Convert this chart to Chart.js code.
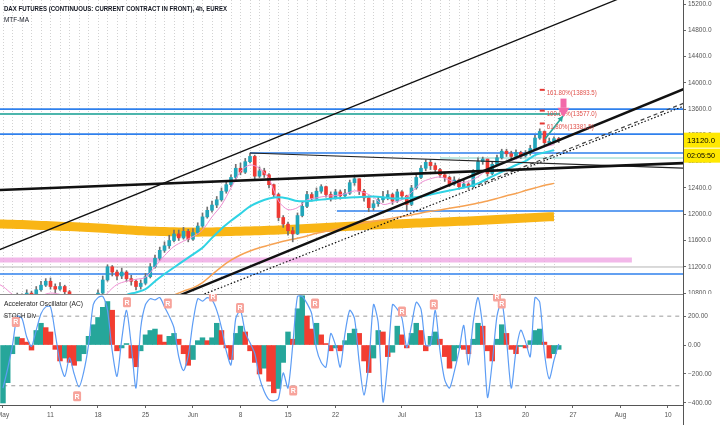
<!DOCTYPE html>
<html>
<head>
<meta charset="utf-8">
<title>DAX futures 4h</title>
<script src="https://cdn.jsdelivr.net/npm/chart.js@4.4.1/dist/chart.umd.min.js"></script>
<style>
  html, body { margin: 0; padding: 0; background: #ffffff; }
  #wrap { position: relative; width: 720px; height: 425px; overflow: hidden; background: #ffffff; }
  #priceChart { position: absolute; left: 0; top: 0; }
  #oscChart { position: absolute; left: 0; top: 294px; }
</style>
</head>
<body>
<div id="wrap">
  <canvas id="priceChart" width="720" height="294"></canvas>
  <canvas id="oscChart" width="720" height="131"></canvas>
</div>
<script>
// x axis works in half-day slots counted from Mon 4 May (trading days only)
const tickSlots = [0, 10, 20, 30, 40, 50, 60, 70, 84, 100, 110, 120, 130, 140];
const tickLabels = ["May", "11", "18", "25", "Jun", "8", "15", "22", "Jul", "13", "20", "27", "Aug", "10"];
const priceTicks = [10800, 11200, 11600, 12000, 12400, 12800, 13200, 13600, 14000, 14400, 14800, 15200];
const oscTicks = [-400, -200, 0, 200];

// candles (open = previous close)
const firstOpen = 10520;
const closes = [
  10600, 10700, 10650, 10750, 10720, 10800, 10760, 10850, 10920, 10980,
  10900, 10860, 10900, 10820, 10700, 10600, 10480, 10420, 10520, 10620,
  10800, 11000, 11200, 11120, 11060, 11120, 11020, 10980, 10900, 10950,
  11050, 11200, 11330, 11450, 11520, 11600, 11700, 11640, 11740, 11620,
  11720, 11820, 11960, 12060, 12140, 12220, 12350, 12450, 12560, 12700,
  12640, 12800, 12880, 12580, 12660, 12600, 12450, 12300, 11950, 11850,
  11750, 11700, 11980, 12120, 12300, 12240, 12350, 12420, 12300, 12250,
  12340, 12280, 12320, 12480, 12540, 12350, 12250, 12100, 12160, 12220,
  12260, 12300, 12200, 12340, 12280, 12150, 12400, 12560, 12700, 12790,
  12740, 12680, 12600, 12560, 12460, 12520, 12420, 12460, 12420, 12640,
  12800, 12840, 12620, 12760, 12860, 12960, 12920, 12880, 12940, 12890,
  12930, 13000, 13160, 13260, 13090, 13110, 13150, 13120
];
const highs = [
  10650, 10760, 10740, 10800, 10790, 10850, 10830, 10900, 10980, 11020,
  11030, 10940, 10960, 10920, 10840, 10720, 10620, 10520, 10580, 10700,
  10850, 11060, 11230, 11220, 11150, 11180, 11140, 11070, 11000, 11000,
  11100, 11250, 11380, 11500, 11580, 11680, 11760, 11760, 11800, 11770,
  11780, 11870, 12020, 12110, 12200, 12270, 12400, 12510, 12600, 12760,
  12780, 12850, 12930, 12900, 12720, 12700, 12620, 12460, 12320, 11980,
  11880, 11800, 12020, 12180, 12350, 12330, 12400, 12450, 12430, 12340,
  12380, 12370, 12380, 12520, 12570, 12540, 12380, 12280, 12210, 12270,
  12350, 12360, 12320, 12380, 12360, 12290, 12440, 12600, 12740, 12830,
  12830, 12780, 12700, 12640, 12580, 12570, 12540, 12520, 12480, 12680,
  12860, 12870, 12840, 12800, 12900, 12990, 12990, 12960, 12980, 12960,
  12970, 13050, 13200, 13300, 13270, 13160, 13180, 13170
];
const lows = [
  10450, 10580, 10600, 10620, 10680, 10700, 10720, 10740, 10830, 10900,
  10860, 10800, 10840, 10780, 10650, 10550, 10420, 10350, 10400, 10500,
  10600, 10780, 10980, 11060, 11000, 11020, 10980, 10920, 10850, 10860,
  10930, 11030, 11180, 11300, 11420, 11480, 11580, 11600, 11620, 11580,
  11600, 11700, 11800, 11940, 12030, 12100, 12200, 12320, 12420, 12530,
  12600, 12620, 12780, 12540, 12560, 12560, 12400, 12250, 11900, 11800,
  11680, 11580, 11690, 11960, 12100, 12200, 12220, 12320, 12260, 12200,
  12230, 12230, 12250, 12300, 12440, 12300, 12200, 12040, 12060, 12120,
  12180, 12220, 12150, 12180, 12230, 12050, 12130, 12380, 12540, 12660,
  12680, 12640, 12560, 12500, 12420, 12440, 12380, 12400, 12380, 12400,
  12620, 12760, 12580, 12600, 12740, 12840, 12880, 12840, 12860, 12850,
  12870, 12900, 12980, 13140, 13060, 13060, 13080, 13090
];

// daily moving averages, first value is the day before 4 May
const fastMA = [
  10980, 10900, 10780, 10700, 10700, 10760, 10800, 10780, 10720, 10620,
  10560, 10600, 10800, 10930, 10980, 11010, 11040, 11200, 11370, 11510,
  11590, 11660, 11760, 11960, 12140, 12400, 12650, 12750, 12700, 12540,
  12200, 12070, 12100, 12217, 12250, 12275, 12285, 12310, 12355, 12330,
  12260, 12150, 12180, 12220, 12330, 12480, 12540, 12567, 12520, 12480,
  12500, 12570, 12680, 12740, 12800, 12840, 12910, 12990, 13030, 13060
];
const midMA = [
  10660, 10650, 10640, 10630, 10620, 10610, 10600, 10590, 10580, 10570,
  10570, 10590, 10620, 10680, 10770, 10810, 10860, 10980, 11090, 11190,
  11290, 11390, 11490, 11640, 11780, 11900, 12010, 12120, 12190, 12240,
  12260, 12240, 12200, 12200, 12215, 12230, 12245, 12250, 12260, 12265,
  12270, 12260, 12240, 12240, 12250, 12270, 12300, 12330, 12360, 12390,
  12420, 12470, 12540, 12610, 12680, 12750, 12810, 12900, 12940, 12975
];
const slowMA = [
  null, null, null, null, null, null, null, null, null, null,
  null, null, null, null, null, null, null, 10620, 10700, 10770,
  10830, 10880, 10960, 11080, 11200, 11300, 11380, 11440, 11490, 11530,
  11570, 11605, 11635, 11670, 11710, 11740, 11770, 11810, 11845, 11870,
  11895, 11915, 11940, 11965, 11990, 12020, 12045, 12065, 12090, 12115,
  12140, 12170, 12200, 12240, 12280, 12315, 12360, 12400, 12440, 12470
];
const mtfMA = [
  11854, 11850, 11846, 11842, 11836, 11830, 11824, 11818, 11812, 11806,
  11798, 11790, 11782, 11772, 11762, 11752, 11746, 11740, 11736, 11732,
  11730, 11728, 11728, 11730, 11734, 11738, 11742, 11746, 11750, 11755,
  11760, 11766, 11774, 11782, 11790, 11798, 11806, 11814, 11822, 11830,
  11838, 11844, 11850, 11856, 11862, 11868, 11874, 11880, 11886, 11892,
  11898, 11904, 11912, 11920, 11928, 11936, 11944, 11952, 11958, 11962
];

// lower pane: accelerator oscillator and stochastic
const acValues = [
  -400, -260, -60, 55, 45, 20, -35, 100, 150, 120,
  90, -30, -110, -90, -120, -140, -110, -60, 60, 140,
  190, 260, 300, 240, -40, -20, 10, -90, -150, -40,
  70, 100, 110, 70, 20, 60, 80, 40, -60, -140,
  -100, 30, 50, 30, 50, 150, 100, -20, -100, 80,
  130, 90, -40, -120, -200, -160, -250, -330, -300, -120,
  90, 40, 250, 340, 200, 110, 150, 70, 10, -40,
  -20, -40, 30, 80, 110, 80, -110, -190, -90, 100,
  90, -80, -50, 130, 70, -20, 80, 150, 100, -40,
  60, 90, 40, -80, -160, -110, -20, -30, -60, 40,
  150, 130, -40, -110, 40, 140, 80, -30, -60, -10,
  -20, 30, 100, 110, 20, -90, -60, -30
];
const stochValues = [
  18, 35, 55, 80, 78, 62, 54, 68, 82, 88,
  88, 65, 40, 28, 44, 30, 19, 32, 55, 90,
  96, 97, 85, 50, 28, 60, 85, 55, 18, 70,
  90, 95, 94, 96, 88, 80, 70, 45, 33, 46,
  75, 95, 93, 96, 94, 85, 70, 50, 38, 78,
  85, 66, 57, 48, 27, 15, 8, 7, 9, 31,
  18, 55, 97, 97, 91, 82, 52, 40, 36, 65,
  55, 36, 65, 85, 78, 40, 12, 38, 90, 74,
  6, 40, 90, 86, 78, 53, 72, 92, 86, 55,
  55, 85, 50, 25, 18, 32, 50, 72, 38, 75,
  96, 70, 10, 40, 80, 93, 60, 18, 50, 68,
  58, 45, 96, 92, 48, 26, 42, 56
];
const stochLevels = [80, 20];
// divergence marks: [slot, stoch value]
const divMarks = [[2.7, 75], [26.1, 92], [34.7, 91], [44.2, 97], [49.9, 87], [65.7, 91],
  [15.6, 11], [61.1, 16], [84, 84], [90.7, 90], [104, 97], [105, 91]];

// drawings on the price pane: [slotFrom, priceFrom, slotTo, priceTo]
const channelTop = [-1, 11452, 144, 15700];
const flatThick = [-1, 12369, 144, 12780];
const peakLine = [52, 12932, 144, 12700];
const riseThick = [35, 10700, 144, 13925];
const riseDotted = [39, 10690, 144, 13665];
const riseDashed = [100, 12445, 144, 13710];
const projArrow = [114.1, 13145, 117.9, 13495];
// horizontal levels: [price, slotFrom, slotTo]
const blueLevels = [[13600, -1, 144], [13220, -1, 144], [12932, 52, 144], [12050, 70.3, 144], [11090, -1, 144]];
const tealLevels = [[13526, -1, 117.3], [12856, 92, 144]];
const pinkLevel = [11303, -1, 132.4];
const greyLevel = [11197, -1, 144];
const fibLevels = [13893.5, 13577.0, 13381.5];
const fibNames = ["161.80%", "100.00%", "61.80%"];
const fibSlot = 113;
const signalArrow = [118, 13760, 13480];
const lastPrice = 13120.0;
const countdown = "02:05:50";

const FONT = '"Liberation Sans Narrow", "Liberation Sans", Arial, sans-serif';
const slotMin = -0.63;
const slotMax = 143.16;
const upColor = "#22a6ba";
const downColor = "#ef3a33";

function seg(d, color, width, dash, order, axis) {
  return {
    type: "line",
    data: [{ x: d[0], y: d[1] }, { x: d[2], y: d[3] }],
    yAxisID: axis || "y",
    borderColor: color,
    borderWidth: width,
    borderDash: dash || [],
    borderCapStyle: "butt",
    pointRadius: 0,
    fill: false,
    order: order
  };
}
function level(l, color, width, order) {
  return seg([l[1], l[0], l[2], l[0]], color, width, [], order);
}
function dailyLine(values, color, width, order) {
  return {
    type: "line",
    data: values.map((v, j) => ({ x: 2 * (j - 1), y: v })),
    borderColor: color,
    borderWidth: width,
    borderCapStyle: "butt",
    pointRadius: 0,
    tension: 0.3,
    fill: false,
    order: order
  };
}
// squeeze a text run to the width it takes in the screenshot
function fitText(ctx, text, x, y, width) {
  const w = ctx.measureText(text).width;
  ctx.save();
  ctx.translate(x, y);
  ctx.scale(Math.min(1, width / w), 1);
  ctx.fillText(text, 0, 0);
  ctx.restore();
}

const opens = closes.map((c, i) => (i ? closes[i - 1] : firstOpen));

const mainDecor = {
  id: "mainDecor",
  beforeDatasetsDraw(chart) {
    const { ctx, chartArea, scales: { x } } = chart;
    ctx.save();
    ctx.strokeStyle = "#d2d2d2";
    ctx.lineWidth = 1;
    ctx.setLineDash([1, 2]);
    for (let i = 0; i < closes.length; i += 2) {
      const px = Math.round(x.getPixelForValue(i)) + 0.5;
      ctx.beginPath();
      ctx.moveTo(px, chartArea.top);
      ctx.lineTo(px, chartArea.bottom);
      ctx.stroke();
    }
    ctx.restore();
  },
  afterDraw(chart) {
    const { ctx, chartArea, scales: { x, y } } = chart;
    ctx.save();
    ctx.textBaseline = "middle";
    ctx.textAlign = "left";
    ctx.fillStyle = "#131722";
    ctx.font = "bold 8px " + FONT;
    fitText(ctx, "DAX FUTURES (CONTINUOUS: CURRENT CONTRACT IN FRONT), 4h, EUREX", 4, 9, 223);
    ctx.font = "8px " + FONT;
    fitText(ctx, "MTF-MA", 4, 20, 25);

    // fibonacci projection labels
    const fx = x.getPixelForValue(fibSlot);
    fibLevels.forEach((lv, k) => {
      const py = y.getPixelForValue(lv);
      ctx.strokeStyle = "#e53935";
      ctx.lineWidth = 2;
      ctx.beginPath();
      ctx.moveTo(fx, py);
      ctx.lineTo(fx + 5, py);
      ctx.stroke();
      ctx.fillStyle = "#e0504a";
      ctx.font = "7.5px " + FONT;
      fitText(ctx, fibNames[k] + "(" + lv.toFixed(1) + ")", fx + 7, py + 3, k === 2 ? 47 : 50);
    });

    // projection arrow head
    const ax0 = x.getPixelForValue(projArrow[0]), ay0 = y.getPixelForValue(projArrow[1]);
    const ax1 = x.getPixelForValue(projArrow[2]), ay1 = y.getPixelForValue(projArrow[3]);
    const ang = Math.atan2(ay1 - ay0, ax1 - ax0);
    ctx.fillStyle = "#26a69a";
    ctx.beginPath();
    ctx.moveTo(ax1, ay1);
    ctx.lineTo(ax1 - 6 * Math.cos(ang - 0.5), ay1 - 6 * Math.sin(ang - 0.5));
    ctx.lineTo(ax1 - 6 * Math.cos(ang + 0.5), ay1 - 6 * Math.sin(ang + 0.5));
    ctx.closePath();
    ctx.fill();

    // pink signal arrow
    const sx = x.getPixelForValue(signalArrow[0]);
    const sTop = y.getPixelForValue(signalArrow[1]);
    const sTip = y.getPixelForValue(signalArrow[2]);
    const mid = sTop + (sTip - sTop) * 0.5;
    ctx.fillStyle = "#f26aa9";
    ctx.fillRect(sx - 3, sTop, 6, mid - sTop);
    ctx.beginPath();
    ctx.moveTo(sx - 6, mid);
    ctx.lineTo(sx + 6, mid);
    ctx.lineTo(sx, sTip);
    ctx.closePath();
    ctx.fill();

    // last price and countdown labels on the axis
    const py = y.getPixelForValue(lastPrice);
    const lx = chartArea.right + 1;
    ctx.fillStyle = "#ffe800";
    ctx.fillRect(lx, py - 8, 37, 15);
    ctx.fillRect(lx, py + 8, 37, 14);
    ctx.fillStyle = "#000000";
    ctx.font = "8px " + FONT;
    fitText(ctx, lastPrice.toFixed(1), lx + 3, py, 28);
    fitText(ctx, countdown, lx + 3, py + 15, 28);
    ctx.restore();
  }
};

const oscDecor = {
  id: "oscDecor",
  afterDraw(chart) {
    const { ctx, chartArea, scales: { x, ys } } = chart;
    ctx.save();
    ctx.strokeStyle = "#8c8c8c";
    ctx.lineWidth = 1;
    ctx.beginPath();
    ctx.moveTo(0, 0.5);
    ctx.lineTo(chartArea.right, 0.5);
    ctx.stroke();
    ctx.strokeStyle = "#555555";
    ctx.beginPath();
    ctx.moveTo(Math.round(chartArea.right) + 0.5, 0);
    ctx.lineTo(Math.round(chartArea.right) + 0.5, chart.height);
    ctx.stroke();

    ctx.textBaseline = "middle";
    ctx.textAlign = "left";
    ctx.fillStyle = "#222222";
    ctx.font = "8px " + FONT;
    fitText(ctx, "Accelerator Oscillator (AC)", 4, 10, 79);
    fitText(ctx, "STOCH Div", 4, 22, 32);

    ctx.textAlign = "center";
    ctx.font = "bold 7px " + FONT;
    divMarks.forEach(([s, v]) => {
      const px = x.getPixelForValue(s);
      const py = ys.getPixelForValue(v);
      ctx.fillStyle = "#f7a39b";
      ctx.beginPath();
      ctx.roundRect(px - 4, py - 5, 8, 10, 1.5);
      ctx.fill();
      ctx.fillStyle = "#ffffff";
      ctx.fillText("R", px, py + 0.5);
    });
    ctx.restore();
  }
};

const axisFont = { family: FONT, size: 6.5 };

new Chart(document.getElementById("priceChart"), {
  type: "line",
  data: {
    datasets: [
      level(pinkLevel, "rgba(238,160,226,0.75)", 5, 60),
      level(greyLevel, "#b5b5b5", 1, 59),
      ...blueLevels.map(l => level(l, "#2f80ed", 1.6, 58)),
      ...tealLevels.map((l, k) => level(l, k ? "#7fd0c6" : "#4db6ac", k ? 1 : 2, 57)),
      dailyLine(mtfMA, "#f9b515", 9, 50),
      dailyLine(slowMA, "#f6a253", 1.5, 45),
      {
        type: "bar",
        data: closes.map((c, i) => ({ x: i, y: [lows[i], highs[i]] })),
        backgroundColor: "#707070",
        barThickness: 1,
        grouped: false,
        borderWidth: 0,
        order: 40
      },
      {
        type: "bar",
        data: closes.map((c, i) => ({ x: i, y: [opens[i], c] })),
        backgroundColor: closes.map((c, i) => (c >= opens[i] ? upColor : downColor)),
        barThickness: 3,
        grouped: false,
        borderWidth: 0,
        order: 39
      },
      dailyLine(fastMA, "#ee8fd2", 1, 30),
      dailyLine(midMA, "#2fd3e4", 2, 29),
      seg(channelTop, "#111111", 1.3, [], 20),
      seg(flatThick, "#111111", 2.6, [], 20),
      seg(peakLine, "#222222", 1.2, [], 20),
      seg(riseThick, "#111111", 2.4, [], 20),
      seg(riseDotted, "#111111", 1.2, [1.5, 2], 20),
      seg(riseDashed, "#444444", 1.2, [4, 3], 20),
      seg(projArrow, "#26a69a", 1.6, [], 10)
    ]
  },
  options: {
    responsive: false,
    animation: false,
    events: [],
    layout: { padding: 0 },
    plugins: { legend: { display: false }, tooltip: { enabled: false } },
    scales: {
      x: { type: "linear", display: false, offset: false, grid: { offset: false }, min: slotMin, max: slotMax },
      y: {
        type: "linear",
        position: "right",
        min: 10786,
        max: 15261,
        beginAtZero: false,
        afterBuildTicks: s => { s.ticks = priceTicks.map(v => ({ value: v })); },
        afterFit: s => { s.width = 37; s.paddingTop = 0; s.paddingBottom = 0; },
        grid: { drawOnChartArea: false, drawTicks: true, tickLength: 3, color: "#666666" },
        border: { display: true, color: "#555555" },
        ticks: { padding: 2, color: "#555555", font: axisFont, callback: v => Number(v).toFixed(1) }
      }
    }
  },
  plugins: [mainDecor]
});

new Chart(document.getElementById("oscChart"), {
  type: "line",
  data: {
    datasets: [
      ...stochLevels.map(v => seg([slotMin - 1, v, slotMax + 1, v], "#9a9a9a", 1, [4, 4], 30, "ys")),
      {
        type: "bar",
        data: acValues.map((v, i) => ({ x: i, y: v })),
        backgroundColor: acValues.map((v, i) => (i === 0 || v >= acValues[i - 1] ? "#26a69a" : "#f23d31")),
        barThickness: 4.8,
        grouped: false,
        borderWidth: 0,
        order: 20
      },
      {
        type: "line",
        yAxisID: "ys",
        data: stochValues.map((v, i) => ({ x: i, y: v })),
        borderColor: "#5d9df5",
        borderWidth: 1.2,
        tension: 0.25,
        pointRadius: 0,
        fill: false,
        order: 10
      }
    ]
  },
  options: {
    responsive: false,
    animation: false,
    events: [],
    layout: { padding: 0 },
    plugins: { legend: { display: false }, tooltip: { enabled: false } },
    scales: {
      x: {
        type: "linear",
        min: slotMin,
        max: slotMax,
        offset: false,
        afterBuildTicks: s => { s.ticks = tickSlots.map(v => ({ value: v })); },
        afterFit: s => { s.height = 20; s.paddingLeft = 0; s.paddingRight = 0; },
        grid: { offset: false, drawOnChartArea: false, drawTicks: true, tickLength: 3, color: "#666666" },
        border: { display: true, color: "#555555" },
        ticks: {
          autoSkip: false, maxRotation: 0, padding: 3, color: "#555555", font: axisFont,
          callback: v => tickLabels[tickSlots.indexOf(v)]
        }
      },
      y: {
        type: "linear",
        position: "right",
        min: -414,
        max: 352,
        beginAtZero: false,
        afterBuildTicks: s => { s.ticks = oscTicks.map(v => ({ value: v })); },
        afterFit: s => { s.width = 37; s.paddingTop = 0; s.paddingBottom = 0; },
        grid: { drawOnChartArea: false, drawTicks: true, tickLength: 3, color: "#666666" },
        border: { display: true, color: "#555555" },
        ticks: { padding: 2, color: "#555555", font: axisFont, callback: v => Number(v).toFixed(2).replace("-", "\u2212") }
      },
      ys: { type: "linear", display: false, min: 3.4, max: 99.1 }
    }
  },
  plugins: [oscDecor]
});
</script>
</body>
</html>
